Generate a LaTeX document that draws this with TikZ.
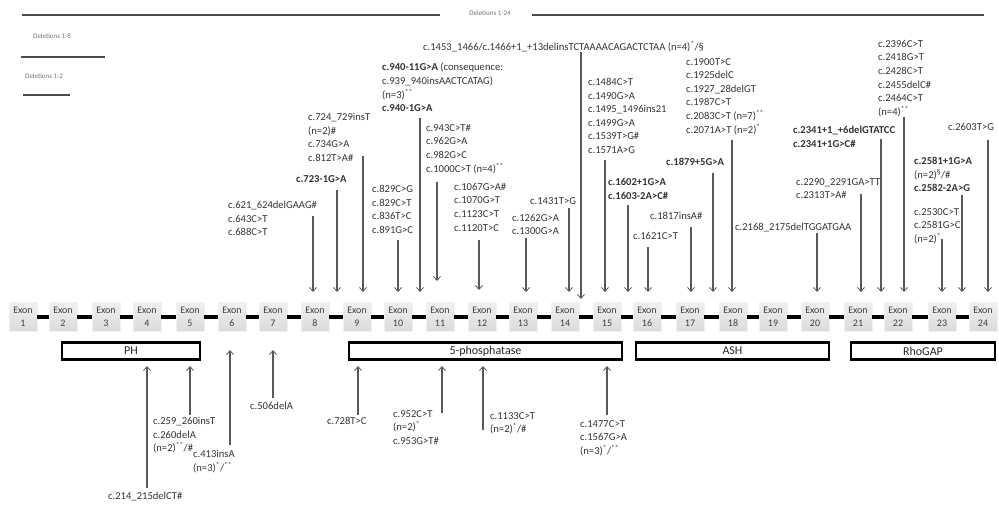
\documentclass[tikz,border=0pt]{standalone}
\usepackage{fontspec}
\setmainfont{Carlito}
\usetikzlibrary{arrows.meta}
\newcommand\mydown[4]{\coordinate (s#1) at (#2,#3); \coordinate (h#1) at (#2,#4); \draw[arr] (s#1) -- (h#1);}
\newcommand\myup[4]{\coordinate (s#1) at (#2,#4); \coordinate (h#1) at (#2,#3); \draw[arr] (s#1) -- (h#1);}
\begin{document}
\begin{tikzpicture}[x=1pt,y=-1pt,
  lbl/.style={font=\fontsize{10.6}{13.6}\selectfont, align=left, inner sep=0pt, anchor=north west, text=black!80},
  arr/.style={draw=black!65, line width=1.2pt, -{Straight Barb[length=4pt,width=7pt,line width=0.8pt]}},
  exonbox/.style={draw=black!6, top color=black!6, bottom color=black!14, minimum width=28pt, minimum height=29pt, inner sep=0pt, align=center, font=\fontsize{10}{12.5}\selectfont, text=black!75},
  link/.style={line width=4pt, black},
  dombox/.style={draw=black, line width=2.6pt, inner sep=0pt, minimum height=17pt, font=\fontsize{12}{13}\selectfont, text=black!85},
  delline/.style={line width=1.6pt, black!70},
  dellbl/.style={font=\fontsize{7}{8}\selectfont, text=black!55, inner sep=0pt}
]
\useasboundingbox (0,0) rectangle (999,507);

% deletions
\node[dellbl] (d24) at (490,13) {Deletions 1-24};
\coordinate (d24a) at (22,15); \coordinate (d24b) at (440,15);
\coordinate (d24c) at (532,15); \coordinate (d24d) at (984,15);
\draw[delline] (d24a) -- (d24b); \draw[delline] (d24c) -- (d24d);
\node[dellbl, anchor=west] (d8) at (33,36) {Deletions 1-8};
\coordinate (d8a) at (21,57); \coordinate (d8b) at (105,57);
\draw[delline] (d8a) -- (d8b);
\node[dellbl, anchor=west] (d2) at (25,76) {Deletions 1-2};
\coordinate (d2a) at (23,95); \coordinate (d2b) at (70,95);
\draw[delline] (d2a) -- (d2b);

% exons
\foreach \i/\x in {1/23,2/63,3/106,4/147,5/190,6/232,7/273,8/315,9/357,10/398,11/440,12/482,13/523,14/565,15/607,16/647,17/690,18/733,19/773,20/815,21/858,22/898,23/942,24/983}
  \node[exonbox] (e\i) at (\x,317) {Exon\\\i};
\foreach \i in {1,...,23}{\pgfmathtruncatemacro{\j}{\i+1}\draw[link] (e\i.east) -- (e\j.west);}

% domains
\node[dombox, minimum width=138pt] (ph) at (131,351) {PH};
\node[dombox, minimum width=273pt] (pp) at (485.5,351) {5-phosphatase};
\node[dombox, minimum width=193pt] (ash) at (732.5,351) {ASH};
\node[dombox, minimum width=144pt] (rho) at (923,351) {RhoGAP};

% top labels
\node[lbl] (l1) at (228,201) {c.621\_624delGAAG\#\\c.643C>T\\c.688C>T};
\node[lbl] (l2) at (296,175) {\textbf{c.723-1G>A}};
\node[lbl] (l3) at (308,113) {c.724\_729insT\\(n=2)\#\\c.734G>A\\c.812T>A\#};
\node[lbl] (l4) at (372,185) {c.829C>G\\c.829C>T\\c.836T>C\\c.891G>C};
\node[lbl] (l5) at (382,63) {\textbf{c.940-11G>A} (consequence:\\c.939\_940insAACTCATAG)\\(n=3)\textsuperscript{**}\\\textbf{c.940-1G>A}};
\node[lbl] (l6) at (426,124) {c.943C>T\#\\c.962G>A\\c.982G>C\\c.1000C>T (n=4)\textsuperscript{**}};
\node[lbl] (l7) at (454,183) {c.1067G>A\#\\c.1070G>T\\c.1123C>T\\c.1120T>C};
\node[lbl] (l8) at (512,214) {c.1262G>A\\c.1300G>A};
\node[lbl] (l9) at (530,197) {c.1431T>G};
\node[lbl] (l10) at (423,41) {c.1453\_1466/c.1466+1\_+13delinsTCTAAAACAGACTCTAA (n=4)\textsuperscript{*}/§};
\node[lbl] (l11) at (588,78) {c.1484C>T\\c.1490G>A\\c.1495\_1496ins21\\c.1499G>A\\c.1539T>G\#\\c.1571A>G};
\node[lbl] (l12) at (608,178) {\textbf{c.1602+1G>A}\\\textbf{c.1603-2A>C\#}};
\node[lbl] (l13) at (633,232) {c.1621C>T};
\node[lbl] (l14) at (650,212) {c.1817insA\#};
\node[lbl] (l15) at (666,158) {\textbf{c.1879+5G>A}};
\node[lbl] (l16) at (686,58) {c.1900T>C\\c.1925delC\\c.1927\_28delGT\\c.1987C>T\\c.2083C>T (n=7)\textsuperscript{**}\\c.2071A>T (n=2)\textsuperscript{*}};
\node[lbl] (l17) at (735,223) {c.2168\_2175delTGGATGAA};
\node[lbl] (l18) at (796,178) {c.2290\_2291GA>TT\\c.2313T>A\#};
\node[lbl] (l19) at (793,126) {\textbf{c.2341+1\_+6delGTATCC}\\\textbf{c.2341+1G>C\#}};
\node[lbl] (l20) at (878,40) {c.2396C>T\\c.2418G>T\\c.2428C>T\\c.2455delC\#\\c.2464C>T\\(n=4)\textsuperscript{**}};
\node[lbl] (l21) at (948,123) {c.2603T>G};
\node[lbl] (l22) at (914,157) {\textbf{c.2581+1G>A}\\(n=2)\textsuperscript{§}/\#\\\textbf{c.2582-2A>G}};
\node[lbl] (l23) at (914,208) {c.2530C>T\\c.2581G>C\\(n=2)\textsuperscript{*}};

% top arrows
\mydown{a1}{313}{216}{292}
\mydown{a2}{337}{190}{292}
\mydown{a3}{363}{156}{292}
\mydown{a4}{398}{240}{292}
\mydown{a5}{420}{118}{292}
\mydown{a6}{437}{182}{281}
\mydown{a7}{479}{240}{290}
\mydown{a8}{526}{238}{292}
\mydown{a9}{569}{208}{292}
\mydown{a10}{581}{52}{299}
\mydown{a11}{605}{160}{292}
\mydown{a12}{628}{205}{292}
\mydown{a13}{648}{247}{292}
\mydown{a14}{691}{227}{292}
\mydown{a15}{713}{173}{292}
\mydown{a16}{732}{140}{292}
\mydown{a17}{817}{233}{292}
\mydown{a18}{861}{194}{292}
\mydown{a19}{881}{139}{292}
\mydown{a20}{904}{117}{292}
\mydown{a21}{942}{239}{292}
\mydown{a22}{962}{195}{292}
\mydown{a23}{988}{140}{292}

% bottom labels
\node[lbl] (b1) at (108,492) {c.214\_215delCT\#};
\node[lbl] (b2) at (153,417) {c.259\_260insT\\c.260delA\\(n=2)\textsuperscript{**}/\#};
\node[lbl] (b3) at (193,450) {c.413insA\\(n=3)\textsuperscript{*}/\textsuperscript{**}};
\node[lbl] (b4) at (250,402) {c.506delA};
\node[lbl] (b5) at (327,417) {c.728T>C};
\node[lbl] (b6) at (393,410) {c.952C>T\\(n=2)\textsuperscript{*}\\c.953G>T\#};
\node[lbl] (b7) at (490,412) {c.1133C>T\\(n=2)\textsuperscript{*}/\#};
\node[lbl] (b8) at (580,420) {c.1477C>T\\c.1567G>A\\(n=3)\textsuperscript{*}/\textsuperscript{**}};

% bottom arrows
\myup{u1}{147}{366}{488}
\myup{u2}{190}{366}{415}
\myup{u3}{230}{350}{445}
\myup{u4}{273}{350}{398}
\myup{u5}{358}{366}{415}
\myup{u6}{442}{366}{413}
\myup{u7}{483}{366}{430}
\myup{u8}{607}{366}{415}
\end{tikzpicture}
\end{document}
